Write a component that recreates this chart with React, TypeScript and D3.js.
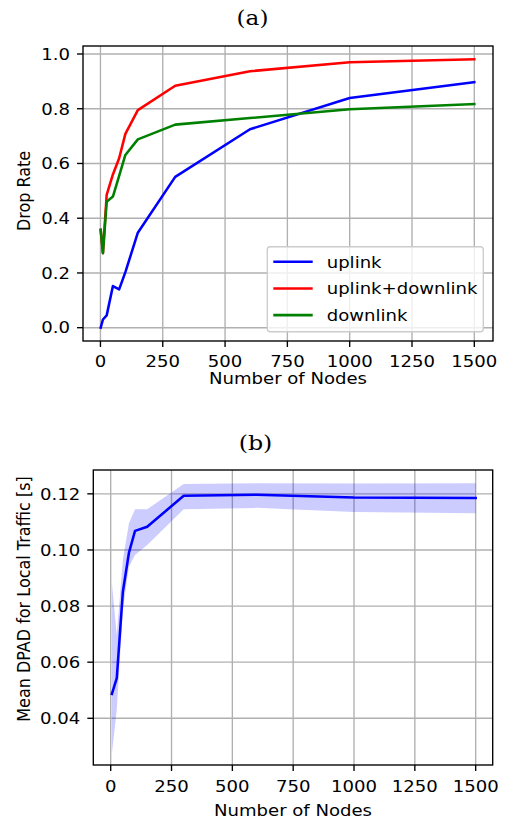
import React from "react";
import * as d3 from "d3";

// ---------- data ----------
const X_TOP = [1, 10, 25, 50, 75, 100, 150, 300, 600, 1000, 1500];
const UPLINK = [0.0, 0.03, 0.045, 0.152, 0.14, 0.203, 0.347, 0.551, 0.725, 0.839, 0.897];
const UPLINK_DOWNLINK = [0.357, 0.272, 0.485, 0.56, 0.619, 0.708, 0.795, 0.884, 0.937, 0.97, 0.981];
const DOWNLINK = [0.357, 0.272, 0.46, 0.479, 0.555, 0.631, 0.688, 0.742, 0.766, 0.798, 0.817];

const X_BOTTOM = [5, 25, 50, 75, 100, 150, 300, 600, 1000, 1500];
const DPAD_MEAN = [0.0487, 0.0543, 0.0851, 0.099, 0.1068, 0.1083, 0.1193, 0.1197, 0.1187, 0.1185];
const DPAD_UPPER = [0.0881, 0.0697, 0.0964, 0.1095, 0.1145, 0.1145, 0.1235, 0.1238, 0.1237, 0.1238];
const DPAD_LOWER = [0.0275, 0.043, 0.0786, 0.094, 0.0982, 0.1018, 0.1145, 0.115, 0.1135, 0.1131];

const X_TICKS = [0, 250, 500, 750, 1000, 1250, 1500];
const Y_TICKS_TOP = [0, 0.2, 0.4, 0.6, 0.8, 1.0];
const Y_TICKS_BOTTOM = [0.04, 0.06, 0.08, 0.1, 0.12];

const SERIES_TOP = [
  { name: "uplink", values: UPLINK, color: "#0000ff" },
  { name: "uplink+downlink", values: UPLINK_DOWNLINK, color: "#ff0000" },
  { name: "downlink", values: DOWNLINK, color: "#008000" },
];

const FONT = "'DejaVu Sans', sans-serif";
const SERIF = "'DejaVu Serif', 'Liberation Serif', serif";
const FS = 16;
const SX = 1.13; // horizontal stretch of the reference
const GRID = "#b0b0b0";

type Box = { left: number; right: number; top: number; bottom: number };

function T({ x, y, anchor = "start", size = FS, family = FONT, rotate = false, children }: any) {
  const tr = `translate(${x},${y}) scale(${SX},1)` + (rotate ? " rotate(-90)" : "");
  return (
    <text transform={tr} textAnchor={anchor} fontFamily={family} fontSize={size} fill="#000">
      {children}
    </text>
  );
}

function Grid({ box, x, y, yTicks }: any) {
  return (
    <g>
      {X_TICKS.map((t) => (
        <line key={"gx" + t} x1={x(t)} x2={x(t)} y1={box.top} y2={box.bottom} stroke={GRID} strokeWidth={1.36} />
      ))}
      {yTicks.map((t: number) => (
        <line key={"gy" + t} x1={box.left} x2={box.right} y1={y(t)} y2={y(t)} stroke={GRID} strokeWidth={1.36} />
      ))}
    </g>
  );
}

function Frame({ box, x, y, yTicks, yFmt, xLabelY, tickLabelY, yLabel, yLabelCenter }: any) {
  return (
    <g>
      <rect x={box.left} y={box.top} width={box.right - box.left} height={box.bottom - box.top} fill="none" stroke="#000" strokeWidth={1.36} />
      {X_TICKS.map((t: number) => (
        <g key={"tx" + t}>
          <line x1={x(t)} x2={x(t)} y1={box.bottom} y2={box.bottom + 6} stroke="#000" strokeWidth={1.36} />
          <T x={x(t)} y={tickLabelY} anchor="middle">{t}</T>
        </g>
      ))}
      {yTicks.map((t: number) => (
        <g key={"ty" + t}>
          <line x1={box.left - 6} x2={box.left} y1={y(t)} y2={y(t)} stroke="#000" strokeWidth={1.36} />
          <T x={box.left - 13} y={y(t) + 5.8} anchor="end">{yFmt(t)}</T>
        </g>
      ))}
      <T x={(box.left + box.right) / 2} y={xLabelY} anchor="middle">Number of Nodes</T>
      <T x={29.5} y={yLabelCenter} anchor="middle" rotate>{yLabel}</T>
    </g>
  );
}

export default function App() {
  // top panel
  const boxA: Box = { left: 83, right: 493, top: 46, bottom: 341 };
  const xA = d3.scaleLinear().domain([-70, 1575]).range([boxA.left, boxA.right]);
  const yA = d3.scaleLinear().domain([-0.0486, 1.0292]).range([boxA.bottom, boxA.top]);

  // bottom panel
  const boxB: Box = { left: 93.3, right: 492.7, top: 470, bottom: 765 };
  const xB = d3.scaleLinear().domain([-71.5, 1570]).range([boxB.left, boxB.right]);
  const yB = d3.scaleLinear().domain([0.02335, 0.1285]).range([boxB.bottom, boxB.top]);

  const lineA = (vals: number[]) =>
    d3.line<number>().x((_, i) => xA(X_TOP[i])).y((v) => yA(v))(vals) || "";

  const lineB = d3.line<number>().x((_, i) => xB(X_BOTTOM[i])).y((v) => yB(v))(DPAD_MEAN) || "";
  const areaB =
    d3.area<number>()
      .x((_, i) => xB(X_BOTTOM[i]))
      .y0((_, i) => yB(DPAD_LOWER[i]))
      .y1((_, i) => yB(DPAD_UPPER[i]))(DPAD_MEAN) || "";

  const leg = { x: 267.3, y: 246.7, w: 216, h: 85 };

  return (
    <svg width={505} height={821} style={{ position: "absolute", left: 0, top: 0, background: "#fff" }}>
      <rect width={505} height={821} fill="#fff" />
      <defs>
        <clipPath id="clipA"><rect x={boxA.left} y={boxA.top} width={boxA.right - boxA.left} height={boxA.bottom - boxA.top} /></clipPath>
        <clipPath id="clipB"><rect x={boxB.left} y={boxB.top} width={boxB.right - boxB.left} height={boxB.bottom - boxB.top} /></clipPath>
      </defs>

      {/* Panel (a) */}
      <T x={252.5} y={25.3} anchor="middle" family={SERIF} size={20.5}>(a)</T>
      <Grid box={boxA} x={xA} y={yA} yTicks={Y_TICKS_TOP} />
      <g clipPath="url(#clipA)">
        {SERIES_TOP.map((s) => (
          <path key={s.name} d={lineA(s.values)} fill="none" stroke={s.color} strokeWidth={2.55} strokeLinejoin="round" strokeLinecap="square" />
        ))}
      </g>
      <Frame box={boxA} x={xA} y={yA} yTicks={Y_TICKS_TOP} yFmt={(v: number) => v.toFixed(1)}
        xLabelY={384} tickLabelY={367} yLabel="Drop Rate" yLabelCenter={191} />
      {/* legend */}
      <g>
        <rect x={leg.x} y={leg.y} width={leg.w} height={leg.h} rx={3} fill="#fff" fillOpacity={0.8} stroke="#cccccc" strokeWidth={1.36} />
        {SERIES_TOP.map((s, i) => (
          <g key={"lg" + s.name}>
            <line x1={273.3} x2={312.7} y1={261.7 + i * 26.7} y2={261.7 + i * 26.7} stroke={s.color} strokeWidth={2.55} />
            <T x={326.7} y={261.7 + i * 26.7 + 5.8}>{s.name}</T>
          </g>
        ))}
      </g>

      {/* Panel (b) */}
      <T x={255.5} y={450} anchor="middle" family={SERIF} size={21}>(b)</T>
      <Grid box={boxB} x={xB} y={yB} yTicks={Y_TICKS_BOTTOM} />
      <g clipPath="url(#clipB)">
        <path d={areaB} fill="#0000ff" fillOpacity={0.2} stroke="none" />
        <path d={lineB} fill="none" stroke="#0000ff" strokeWidth={2.55} strokeLinejoin="round" strokeLinecap="square" />
      </g>
      <Frame box={boxB} x={xB} y={yB} yTicks={Y_TICKS_BOTTOM} yFmt={(v: number) => v.toFixed(2)}
        xLabelY={816} tickLabelY={792} yLabel="Mean DPAD for Local Traffic [s]" yLabelCenter={599} />
    </svg>
  );
}
